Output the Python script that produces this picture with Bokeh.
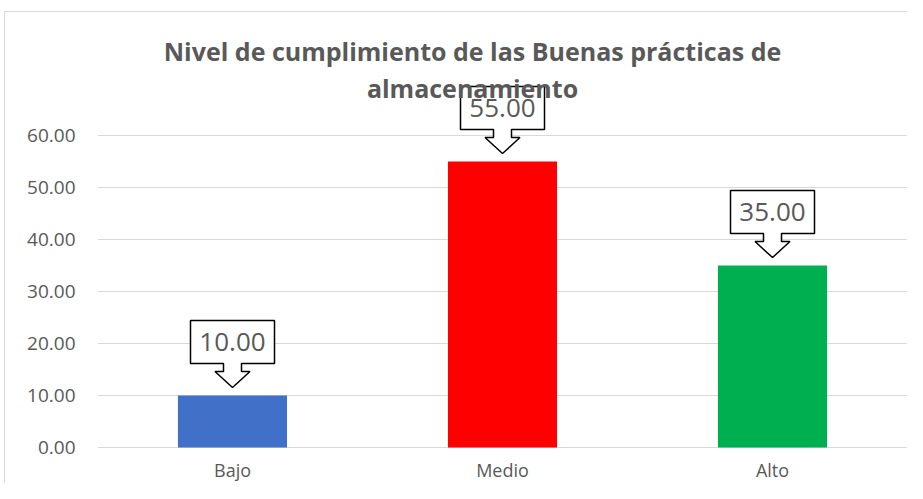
from bokeh.plotting import figure
from bokeh.models import Range1d, FixedTicker, Label, NumeralTickFormatter
from bokeh.core.properties import value
from bokeh.embed import file_html
from bokeh.resources import INLINE

# ---- data ----
categories = ["Bajo", "Medio", "Alto"]
values = [10.00, 55.00, 35.00]
bar_colors = ["#4070C8", "#FF0000", "#00B050"]
y_ticks = [0, 10, 20, 30, 40, 50, 60]
title_lines = ["Nivel de cumplimiento de las Buenas prácticas de", "almacenamiento"]

# ---- layout (pixels) ----
W, H = 907, 483
ML = 97                      # frame left
FW = W - ML                  # frame width
ZERO_PX = 447                # pixel row of y = 0
PX_Y = 312 / 60.0            # pixels per data unit (y)
PX_X = FW / 3.0              # pixels per category (x)
y_top = ZERO_PX / PX_Y
y_bot = -(H - ZERO_PX) / PX_Y
dx = 1.0 / PX_X
dy = 1.0 / PX_Y

TXT = "#595959"
FONT = "Open Sans"

p = figure(width=W, height=H, x_range=Range1d(-0.5, 2.5), y_range=Range1d(y_bot, y_top),
           output_backend="svg", toolbar_location=None, x_axis_location=None,
           min_border_left=ML, min_border_right=0, min_border_top=0, min_border_bottom=0)
p.outline_line_color = None
p.background_fill_color = None
p.border_fill_color = None
p.styles = {
    "background-color": "white",
    "background-image": "linear-gradient(#d9d9d9, #d9d9d9), linear-gradient(#d9d9d9, #d9d9d9)",
    "background-size": "100% 1px, 1px 100%",
    "background-position": "4px 11px, 4px 11px",
    "background-repeat": "no-repeat",
}

idx = list(range(len(categories)))

# y axis
p.yaxis.ticker = FixedTicker(ticks=y_ticks)
p.yaxis.formatter = NumeralTickFormatter(format="0.00")
p.yaxis.axis_line_color = None
p.yaxis.major_tick_line_color = None
p.yaxis.minor_tick_line_color = None
p.yaxis.major_tick_out = 0
p.yaxis.major_tick_in = 0
p.yaxis.major_label_text_font = FONT
p.yaxis.major_label_text_font_size = "19px"
p.yaxis.major_label_text_color = TXT
p.yaxis.major_label_standoff = 22

p.xgrid.visible = False
p.ygrid.ticker = FixedTicker(ticks=y_ticks)
p.ygrid.grid_line_color = "#d9d9d9"
p.ygrid.grid_line_width = 1

# category labels (x axis), text box kept inside the figure
p.text(x=idx, y=[-(481 - ZERO_PX) * dy] * len(idx), text=categories, text_font=value(FONT),
       text_font_size="18px", text_color=TXT, text_align="center", text_baseline="bottom")

# bars
p.vbar(x=idx, top=values, width=0.404, bottom=0, fill_color=bar_colors, line_color=None)

# callouts
xs, ys, ty = [], [], []
for i, v in zip(idx, values):
    tip = v + 8 * dy
    head_top = tip + 16 * dy
    box_bot = tip + 24 * dy
    box_top = box_bot + 43 * dy
    c = i
    xs.append([c - 42 * dx, c - 9 * dx, c - 9 * dx, c - 17.5 * dx, c, c + 17.5 * dx,
               c + 9 * dx, c + 9 * dx, c + 42 * dx, c + 42 * dx, c - 42 * dx])
    ys.append([box_bot, box_bot, head_top, head_top, tip, head_top,
               head_top, box_bot, box_bot, box_top, box_top])
    ty.append((box_bot + box_top) / 2)
p.patches(xs, ys, fill_color="white", line_color="black", line_width=1.5)
p.text(x=idx, y=ty, text=[f"{v:.2f}" for v in values], text_font=value(FONT),
       text_font_size="26px", text_color=TXT, text_align="center", text_baseline="middle")

# title
title_x = (472 - ML) / PX_X - 0.5
title_y_px = [50, 87]
for line, ypx in zip(title_lines, title_y_px):
    p.add_layout(Label(x=title_x, y=(ZERO_PX - ypx) / PX_Y, text=line, text_align="center",
                       text_baseline="middle", text_font=FONT, text_font_style="bold",
                       text_font_size="25px", text_color=TXT))

open("out.html", "w").write(file_html(p, INLINE))
